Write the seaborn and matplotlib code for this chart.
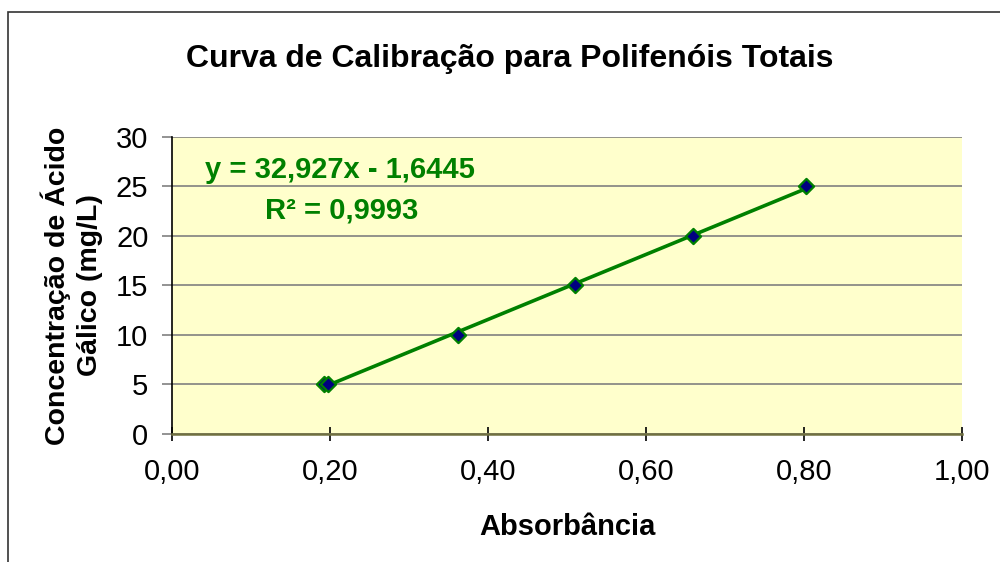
import seaborn as sns
import matplotlib.pyplot as plt
from matplotlib.patches import Rectangle

# dados da curva de calibração
absorbancia = [0.192, 0.198, 0.362, 0.510, 0.659, 0.802]
concentracao = [5, 5, 10, 15, 20, 25]

x_ticks = [0.0, 0.2, 0.4, 0.6, 0.8, 1.0]
x_labels = ["0,00", "0,20", "0,40", "0,60", "0,80", "1,00"]
y_ticks = [0, 5, 10, 15, 20, 25, 30]

equacao = "y = 32,927x - 1,6445"
r2 = "R² = 0,9993"

sns.set_style("white")
plt.rcParams['font.family'] = ['Liberation Sans', 'DejaVu Sans']
plt.rcParams['text.color'] = 'black'
plt.rcParams['axes.labelcolor'] = 'black'
plt.rcParams['xtick.labelcolor'] = 'black'
plt.rcParams['ytick.labelcolor'] = 'black'

fig = plt.figure(figsize=(10, 5.62), dpi=100)
ax = fig.add_axes([0.172, 0.2278, 0.79, 0.5285])
ax.set_facecolor("#FFFFCC")

# moldura externa do gráfico (estilo Excel)
fig.patches.append(Rectangle((0.008, -0.05), 1.1, 1.05 - 0.0214, transform=fig.transFigure,
                             fill=False, edgecolor="#333333", linewidth=1.2, clip_on=False))

verde = "#008000"
sns.regplot(x=absorbancia, y=concentracao, ci=None, scatter=False, ax=ax,
            line_kws=dict(color=verde, linewidth=2.6, zorder=3))
sns.scatterplot(x=absorbancia, y=concentracao, ax=ax, marker="D", s=60,
                color="#000080", edgecolor=verde, linewidth=1.6, zorder=4)

ax.set_xlim(0, 1)
ax.set_ylim(0, 30)
ax.set_xticks(x_ticks)
ax.set_xticklabels(x_labels)
ax.set_yticks(y_ticks)
ax.yaxis.grid(True, color="#808080", linewidth=1.2)
ax.set_axisbelow(True)

for s in ["top", "right"]:
    ax.spines[s].set_visible(False)
ax.spines["left"].set_color("black")
ax.spines["left"].set_linewidth(1.2)
ax.spines["bottom"].set_color("#707040")
ax.spines["bottom"].set_linewidth(1.8)

ax.tick_params(axis="x", direction="inout", length=10, width=1.2, color="black",
               labelsize=21, pad=12, bottom=True)
ax.tick_params(axis="y", direction="out", length=7, width=1.2, color="#808080",
               labelsize=21, pad=10, left=True)

ax.set_xlabel("Absorbância", fontsize=21, fontweight="bold", labelpad=20)
ax.set_ylabel("Concentração de Ácido\nGálico (mg/L)", fontsize=20.5, fontweight="bold",
              labelpad=9, linespacing=1.3)
fig.suptitle("Curva de Calibração para Polifenóis Totais", fontsize=23,
             fontweight="bold", x=0.51, y=0.922)

ax.text(0.213, 0.889, equacao, transform=ax.transAxes, ha="center", va="center",
        color=verde, fontsize=21, fontweight="bold")
ax.text(0.215, 0.754, r2, transform=ax.transAxes, ha="center", va="center",
        color=verde, fontsize=21, fontweight="bold")

fig.savefig("out.png", dpi=100)
